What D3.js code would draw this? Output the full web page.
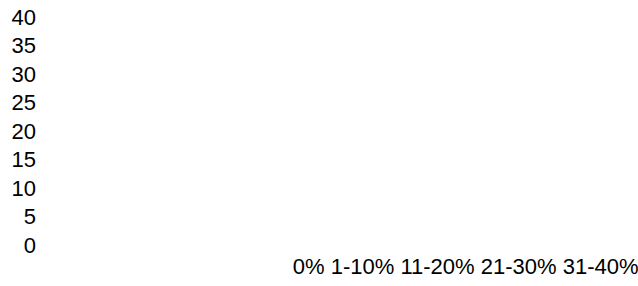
<!DOCTYPE html>
<html>
<head>
<meta charset="utf-8">
<script src="https://cdn.jsdelivr.net/npm/d3@7"></script>
<style>
  body { margin: 0; background: #fff; }
  text { font-family: "Liberation Sans", Arial, sans-serif; fill: #000; }
</style>
</head>
<body>
<svg id="chart" width="638" height="286"></svg>
<script>
const categories = ['0%', '1-10%', '11-20%', '21-30%', '31-40%'];
const yTicks = [0, 5, 10, 15, 20, 25, 30, 35, 40];

const svg = d3.select('#chart');
const fontSize = 22;
const margin = {top: 17, left: 36, bottom: 41};
const height = +svg.attr('height');

// y axis: labels only, no line
const yScale = d3.scaleLinear().domain([0, 40]).range([height - margin.bottom, margin.top]);
const yAxisG = svg.append('g')
    .attr('transform', `translate(${margin.left}, 0)`)
    .call(d3.axisLeft(yScale).tickValues(yTicks).tickSize(0).tickPadding(0));
yAxisG.select('.domain').remove();
yAxisG.selectAll('text').style('font-size', fontSize + 'px').attr('fill', '#000');

// x labels flow like words in one line, so measure them first
const measure = svg.append('text').style('font-size', fontSize + 'px');
const widths = categories.map(c => { measure.text(c); return measure.node().getComputedTextLength(); });
measure.remove();
const gap = fontSize * 0.278;
let pos = 638 - d3.sum(widths) - gap * (categories.length - 1);
const centers = widths.map(w => { const c = pos + w / 2; pos += w + gap; return c; });

const xScale = d3.scaleOrdinal().domain(categories).range(centers);
const xAxisG = svg.append('g')
    .attr('transform', 'translate(0, 258)')
    .call(d3.axisBottom(xScale).tickSize(0).tickPadding(0));
xAxisG.select('.domain').remove();
xAxisG.selectAll('text').style('font-size', fontSize + 'px').attr('fill', '#000');
</script>
</body>
</html>
